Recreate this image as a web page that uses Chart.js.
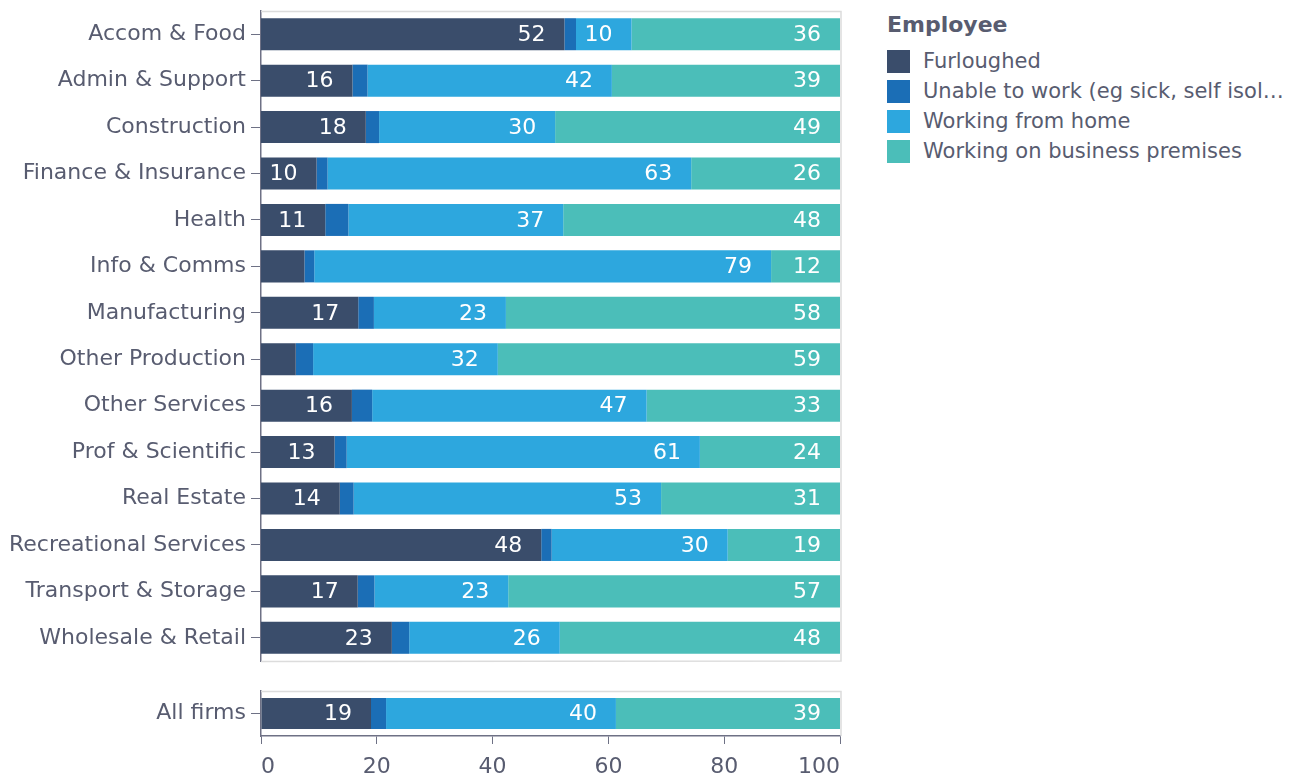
<!DOCTYPE html>
<html>
<head>
<meta charset="utf-8">
<script src="https://cdn.jsdelivr.net/npm/chart.js@4"></script>
<style>
  body { margin: 0; background: #fff; font-family: 'DejaVu Sans', sans-serif; }
  #main { position: absolute; left: 0; top: 0; }
  #total { position: absolute; left: 0; top: 676px; }
  #legend { position: absolute; left: 887px; top: 12px; color: #585c70; }
  #legend .title { font-weight: bold; font-size: 22px; margin-bottom: 9px; }
  #legend .item { height: 30px; font-size: 21px; display: flex; align-items: center; }
  #legend .box { width: 23px; height: 23px; margin-right: 13px; }
</style>
</head>
<body>
<canvas id="main" width="860" height="672"></canvas>
<canvas id="total" width="860" height="97"></canvas>
<div id="legend"></div>
<script>
  // - EMPLOYEE STATUS BY INDUSTRY -

  const categories = ['Accom & Food', 'Admin & Support', 'Construction', 'Finance & Insurance',
    'Health', 'Info & Comms', 'Manufacturing', 'Other Production', 'Other Services',
    'Prof & Scientific', 'Real Estate', 'Recreational Services', 'Transport & Storage',
    'Wholesale & Retail'];

  const furloughed = [52.4, 15.8, 18.1, 9.6, 11.1, 7.5, 16.8, 6.0, 15.7, 12.7, 13.6, 48.4, 16.7, 22.6];
  const unable     = [2.0, 2.6, 2.3, 1.9, 4.0, 1.7, 2.7, 3.0, 3.5, 2.1, 2.4, 1.8, 2.9, 3.0];
  const fromHome   = [9.6, 42.2, 30.4, 62.8, 37.1, 78.9, 22.8, 31.9, 47.4, 61.0, 53.1, 30.4, 23.1, 26.0];
  const premises   = [36.0, 39.4, 49.2, 25.7, 47.8, 11.9, 57.7, 59.1, 33.4, 24.2, 30.9, 19.4, 57.3, 48.4];

  const totalLabel = ['All firms'];
  const totalValues = [19.0, 2.6, 39.7, 38.7];

  const seriesNames = ['Furloughed', 'Unable to work (eg sick, self isol\u2026', 'Working from home',
    'Working on business premises'];
  const seriesColors = ['#3a4d6b', '#1b6eb6', '#2da7de', '#4bbeb9'];

  const xTicks = [0, 20, 40, 60, 80, 100];

  Chart.defaults.font.family = "'DejaVu Sans', sans-serif";
  Chart.defaults.color = '#585c70';

  const axisColor = '#6e7185';

  // light frame round the plot area (left side is the y axis line)
  const panelBorder = {
    id: 'panelBorder',
    beforeDatasetsDraw(chart, args, opts) {
      const { left, right, top, bottom } = chart.chartArea;
      const ctx = chart.ctx;
      ctx.save();
      ctx.strokeStyle = '#dcdcdc';
      ctx.lineWidth = 1.5;
      ctx.beginPath();
      ctx.moveTo(left, top + 0.5);
      ctx.lineTo(right + 1, top + 0.5);
      ctx.lineTo(right + 1, bottom);
      if (opts.bottom) ctx.lineTo(left, bottom + 0.5);
      ctx.stroke();
      ctx.restore();
    }
  };

  // white value labels, right aligned inside each segment
  const valueLabels = {
    id: 'valueLabels',
    afterDatasetsDraw(chart) {
      const ctx = chart.ctx;
      ctx.save();
      ctx.font = "22px 'DejaVu Sans', sans-serif";
      ctx.fillStyle = '#ffffff';
      ctx.textAlign = 'right';
      ctx.textBaseline = 'middle';
      chart.data.datasets.forEach((ds, i) => {
        const meta = chart.getDatasetMeta(i);
        meta.data.forEach((bar, j) => {
          const v = ds.data[j];
          if (v < 8) return;
          ctx.fillText(String(Math.round(v)), bar.x - 19, bar.y + 1);
        });
      });
      ctx.restore();
    }
  };

  function makeDatasets(rows) {
    return seriesNames.map((name, i) => ({
      label: name,
      data: rows[i],
      backgroundColor: seriesColors[i],
      borderWidth: 0,
      categoryPercentage: 1,
      barPercentage: 0.69
    }));
  }

  function yScale() {
    return {
      stacked: true,
      afterFit(scale) {
        scale.width = 261;
        scale.paddingTop = 0;
        scale.paddingBottom = 0;
      },
      grid: { display: true, offset: false, drawOnChartArea: false, drawTicks: true, tickLength: 10, color: axisColor },
      border: { display: true, color: axisColor, width: 1.5 },
      ticks: { padding: 5, font: { size: 22 }, color: '#585c70' }
    };
  }

  const mainChart = new Chart(document.getElementById('main').getContext('2d'), {
    type: 'bar',
    data: {
      labels: categories,
      datasets: makeDatasets([furloughed, unable, fromHome, premises])
    },
    options: {
      indexAxis: 'y',
      responsive: false,
      animation: false,
      layout: { padding: { top: 11, right: 20, bottom: 11, left: 0 } },
      scales: {
        x: { stacked: true, min: 0, max: 100, display: false },
        y: yScale()
      },
      plugins: {
        legend: { display: false },
        tooltip: { enabled: false },
        panelBorder: { bottom: true }
      }
    },
    plugins: [panelBorder, valueLabels]
  });

  const totalChart = new Chart(document.getElementById('total').getContext('2d'), {
    type: 'bar',
    data: {
      labels: totalLabel,
      datasets: makeDatasets(totalValues.map(v => [v]))
    },
    options: {
      indexAxis: 'y',
      responsive: false,
      animation: false,
      layout: { padding: { top: 15, right: 20, bottom: 0, left: 0 } },
      scales: {
        x: {
          stacked: true,
          min: 0,
          max: 100,
          afterFit(scale) { scale.height = 37; },
          afterBuildTicks(scale) { scale.ticks = xTicks.map(v => ({ value: v })); },
          grid: { display: true, drawOnChartArea: false, drawTicks: true, tickLength: 8, color: axisColor },
          border: { display: true, color: axisColor, width: 1.5 },
          ticks: { padding: 10, align: 'inner', font: { size: 22 }, color: '#585c70' }
        },
        y: yScale()
      },
      plugins: {
        legend: { display: false },
        tooltip: { enabled: false },
        panelBorder: { bottom: false }
      }
    },
    plugins: [panelBorder, valueLabels]
  });

  // legend
  const legend = document.getElementById('legend');
  legend.innerHTML = '<div class="title">Employee</div>' +
    seriesNames.map((name, i) =>
      '<div class="item"><span class="box" style="background:' + seriesColors[i] + '"></span>' + name + '</div>'
    ).join('');
</script>
</body>
</html>
